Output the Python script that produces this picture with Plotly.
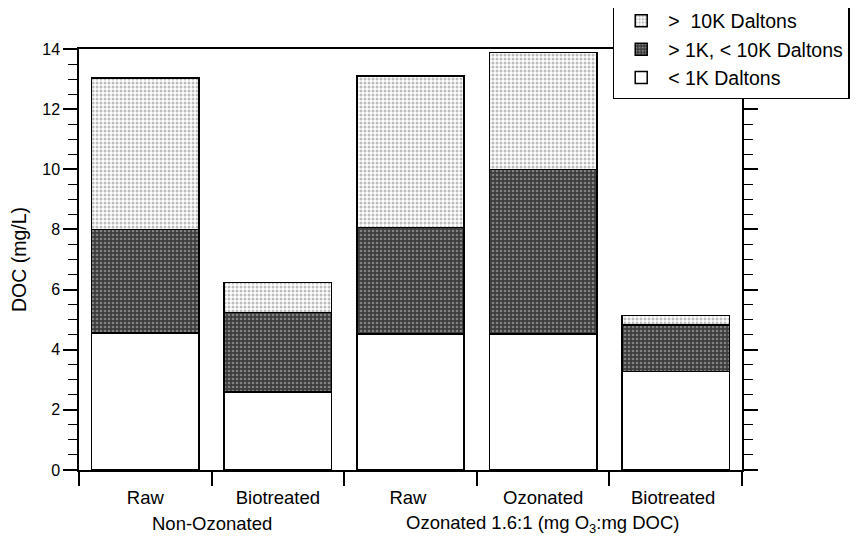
import plotly.graph_objects as go

# Datos (DOC en mg/L por fraccion de peso molecular)
categories = ["Raw", "Biotreated", "Raw ", "Ozonated", "Biotreated "]
below_1k = [4.55, 2.60, 4.52, 4.52, 3.27]
between_1k_10k = [3.45, 2.63, 3.55, 5.48, 1.55]
above_10k = [5.03, 1.01, 5.03, 3.88, 0.31]

group_labels = ["Non-Ozonated", "Ozonated 1.6:1 (mg O<sub>3</sub>:mg DOC)"]
group_centers = [0.5, 3]

FONT = "Liberation Sans, Arial, sans-serif"

fig = go.Figure()

fig.add_trace(go.Bar(
    x=categories, y=below_1k, name="< 1K Daltons",
    marker=dict(color="white", line=dict(color="black", width=1.5))
))
fig.add_trace(go.Bar(
    x=categories, y=between_1k_10k, name="> 1K, < 10K Daltons",
    marker=dict(color="#3c3c3c", line=dict(color="black", width=1.5),
                pattern=dict(shape=".", fgcolor="#c8c8c8", bgcolor="#3c3c3c",
                             size=4, solidity=0.35))
))
fig.add_trace(go.Bar(
    x=categories, y=above_10k, name=">  10K Daltons",
    marker=dict(color="#d6d6d6", line=dict(color="black", width=1.5),
                pattern=dict(shape=".", fgcolor="#7a7a7a", bgcolor="white",
                             size=4, solidity=0.45))
))

# Etiquetas de grupo bajo el eje x
for label, xc in zip(group_labels, group_centers):
    fig.add_annotation(
        x=xc, y=-0.128, xref="x", yref="paper", text=label, showarrow=False,
        font=dict(size=18.5, color="black", family=FONT), yanchor="middle"
    )

# la pagina tiene 8px de margen en el body, se compensa aqui
fig.update_layout(
    barmode="stack",
    bargap=0.19,
    width=864, height=540,
    paper_bgcolor="white", plot_bgcolor="white",
    font=dict(family=FONT, color="black", size=17),
    margin=dict(l=71, r=130, t=41, b=78, autoexpand=False),
    showlegend=True,
    legend=dict(
        x=0.805, y=1.116, xanchor="left", yanchor="top",
        traceorder="reversed", bgcolor="white",
        bordercolor="black", borderwidth=1.5,
        font=dict(size=19.5, family=FONT, color="black"),
        itemwidth=44, tracegroupgap=0
    ),
    xaxis=dict(
        type="category", tickson="boundaries", automargin=False,
        ticks="outside", ticklen=14, tickwidth=1.5, tickcolor="black",
        ticklabelstandoff=10,
        showline=True, linecolor="black", linewidth=1.5, mirror=True,
        showgrid=False, tickfont=dict(size=18.5, family=FONT)
    ),
    yaxis=dict(
        range=[0, 14], dtick=2, ticks="outside", ticklen=14, automargin=False,
        tickwidth=1.5, tickcolor="black",
        minor=dict(dtick=0.5, ticks="outside", ticklen=9, tickwidth=1.2,
                   tickcolor="black"),
        showline=True, linecolor="black", linewidth=1.5, mirror="ticks",
        showgrid=False, zeroline=False,
        title=dict(text="DOC (mg/L)", font=dict(size=19.5, family=FONT), standoff=12),
        tickfont=dict(size=16, family=FONT)
    )
)

fig.write_html("out.html")
